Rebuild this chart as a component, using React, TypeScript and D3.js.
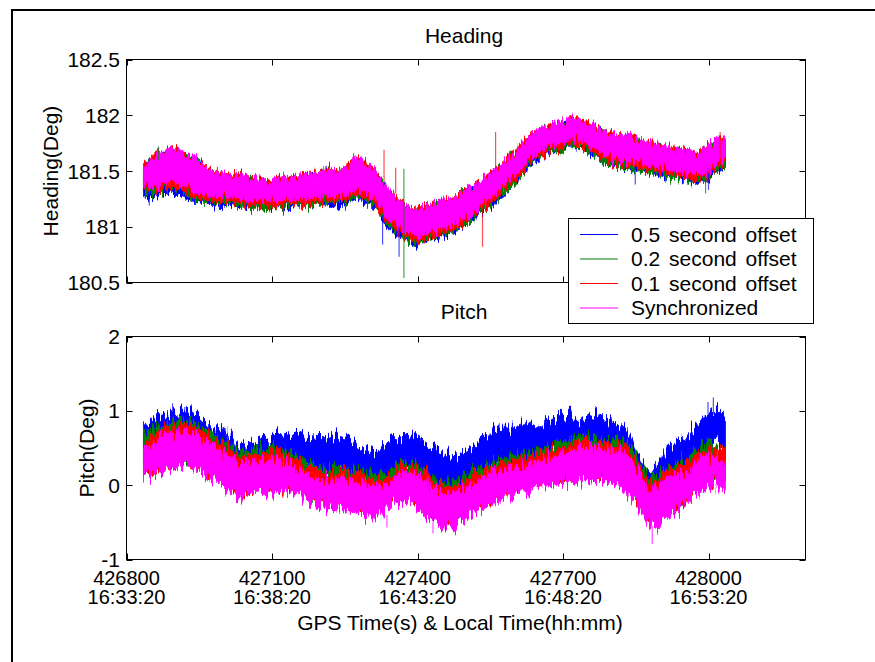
import React from 'react';
import * as d3 from 'd3';

const W = 875;
const H = 662;
const FONT = '"Liberation Sans", Arial, Helvetica, sans-serif';
const FS = 21;

// ---------- data ----------
const times = [
  426835, 426855, 426875, 426895, 426915, 426935, 426955, 426975, 426995, 427015,
  427035, 427055, 427075, 427095, 427115, 427135, 427155, 427175, 427195, 427215,
  427235, 427255, 427275, 427295, 427315, 427335, 427355, 427375, 427395, 427415,
  427435, 427455, 427475, 427495, 427515, 427535, 427555, 427575, 427595, 427615,
  427635, 427655, 427675, 427695, 427715, 427735, 427755, 427775, 427795, 427815,
  427835, 427855, 427875, 427895, 427915, 427935, 427955, 427975, 427995, 428015,
  428035,
];

const seriesNames = ['0.5 second offset', '0.2 second offset', '0.1 second offset', 'Synchronized'];
const seriesColors = ['#0000ff', '#008000', '#ff0000', '#ff00ff'];

const xTicks = [426800, 427100, 427400, 427700, 428000];
const xTickTimes = ['16:33:20', '16:38:20', '16:43:20', '16:48:20', '16:53:20'];
const headingTicks = [180.5, 181, 181.5, 182, 182.5];
const headingTickLabels = ['180.5', '181', '181.5', '182', '182.5'];
const pitchTicks = [-1, 0, 1, 2];
const pitchTickLabels = ['-1', '0', '1', '2'];

// Heading (deg) envelopes: hi / lo per series
const headBlueHi = [
  181.50, 181.60, 181.64, 181.66, 181.62, 181.58, 181.54, 181.46, 181.44, 181.42,
  181.44, 181.39, 181.40, 181.36, 181.41, 181.40, 181.42, 181.44, 181.44, 181.48,
  181.46, 181.50, 181.58, 181.52, 181.46, 181.32, 181.22, 181.16, 181.12, 181.14,
  181.18, 181.20, 181.22, 181.28, 181.32, 181.39, 181.46, 181.52, 181.62, 181.70,
  181.80, 181.84, 181.87, 181.90, 181.94, 181.92, 181.88, 181.84, 181.80, 181.78,
  181.78, 181.74, 181.72, 181.70, 181.68, 181.66, 181.64, 181.62, 181.68, 181.74, 181.76,
];
const headBlueLo = [
  181.27, 181.25, 181.29, 181.31, 181.27, 181.23, 181.22, 181.20, 181.21, 181.19,
  181.19, 181.18, 181.19, 181.18, 181.19, 181.19, 181.20, 181.20, 181.21, 181.19,
  181.20, 181.22, 181.26, 181.21, 181.16, 181.00, 180.93, 180.88, 180.84, 180.86,
  180.88, 180.92, 180.95, 181.02, 181.06, 181.14, 181.19, 181.27, 181.37, 181.46,
  181.57, 181.63, 181.67, 181.70, 181.73, 181.72, 181.67, 181.62, 181.56, 181.54,
  181.51, 181.51, 181.49, 181.48, 181.46, 181.45, 181.43, 181.41, 181.42, 181.49, 181.53,
];
const headGreenHi = [
  181.52, 181.62, 181.66, 181.68, 181.64, 181.60, 181.56, 181.48, 181.46, 181.44,
  181.46, 181.41, 181.42, 181.38, 181.43, 181.42, 181.44, 181.46, 181.46, 181.50,
  181.48, 181.52, 181.60, 181.54, 181.48, 181.34, 181.24, 181.18, 181.14, 181.16,
  181.20, 181.22, 181.24, 181.30, 181.34, 181.41, 181.48, 181.54, 181.64, 181.72,
  181.82, 181.86, 181.89, 181.92, 181.96, 181.94, 181.90, 181.86, 181.82, 181.80,
  181.80, 181.76, 181.74, 181.72, 181.70, 181.68, 181.66, 181.64, 181.70, 181.76, 181.78,
];
const headGreenLo = [
  181.31, 181.29, 181.31, 181.35, 181.31, 181.25, 181.23, 181.22, 181.21, 181.20,
  181.19, 181.17, 181.18, 181.17, 181.17, 181.18, 181.19, 181.19, 181.20, 181.21,
  181.21, 181.23, 181.27, 181.23, 181.17, 181.03, 180.95, 180.89, 180.85, 180.87,
  180.90, 180.93, 180.95, 181.01, 181.07, 181.15, 181.21, 181.28, 181.37, 181.45,
  181.57, 181.62, 181.67, 181.69, 181.72, 181.71, 181.67, 181.61, 181.55, 181.53,
  181.52, 181.50, 181.49, 181.47, 181.45, 181.43, 181.42, 181.40, 181.42, 181.50, 181.53,
];
const headRedHi = [
  181.54, 181.64, 181.68, 181.70, 181.66, 181.62, 181.58, 181.50, 181.48, 181.46,
  181.48, 181.43, 181.44, 181.40, 181.45, 181.44, 181.46, 181.48, 181.48, 181.52,
  181.50, 181.54, 181.62, 181.56, 181.50, 181.36, 181.26, 181.20, 181.16, 181.18,
  181.22, 181.24, 181.26, 181.32, 181.36, 181.43, 181.50, 181.56, 181.66, 181.74,
  181.84, 181.88, 181.91, 181.94, 181.98, 181.96, 181.92, 181.88, 181.84, 181.82,
  181.82, 181.78, 181.76, 181.74, 181.72, 181.70, 181.68, 181.66, 181.72, 181.78, 181.80,
];
const headRedLo = [
  181.33, 181.31, 181.33, 181.37, 181.33, 181.27, 181.25, 181.24, 181.23, 181.22,
  181.21, 181.19, 181.20, 181.19, 181.19, 181.20, 181.21, 181.21, 181.22, 181.23,
  181.23, 181.25, 181.29, 181.25, 181.19, 181.05, 180.97, 180.91, 180.87, 180.89,
  180.92, 180.95, 180.97, 181.03, 181.09, 181.17, 181.23, 181.30, 181.39, 181.47,
  181.59, 181.64, 181.69, 181.71, 181.74, 181.73, 181.69, 181.63, 181.57, 181.55,
  181.54, 181.52, 181.51, 181.49, 181.47, 181.45, 181.44, 181.42, 181.44, 181.52, 181.55,
];
const headMagHi = [
  181.54, 181.64, 181.68, 181.70, 181.66, 181.62, 181.58, 181.50, 181.48, 181.46,
  181.48, 181.43, 181.44, 181.40, 181.45, 181.44, 181.46, 181.48, 181.48, 181.52,
  181.50, 181.54, 181.62, 181.56, 181.50, 181.36, 181.26, 181.20, 181.16, 181.18,
  181.22, 181.24, 181.26, 181.32, 181.36, 181.43, 181.50, 181.56, 181.66, 181.74,
  181.84, 181.88, 181.91, 181.94, 181.98, 181.96, 181.92, 181.88, 181.84, 181.82,
  181.82, 181.78, 181.76, 181.74, 181.72, 181.70, 181.68, 181.66, 181.72, 181.78, 181.80,
];
const headMagLo = [
  181.37, 181.35, 181.37, 181.41, 181.37, 181.31, 181.29, 181.28, 181.27, 181.26,
  181.25, 181.23, 181.24, 181.23, 181.23, 181.24, 181.25, 181.25, 181.26, 181.27,
  181.27, 181.29, 181.33, 181.29, 181.23, 181.09, 181.01, 180.95, 180.91, 180.93,
  180.96, 180.99, 181.01, 181.07, 181.13, 181.21, 181.27, 181.34, 181.43, 181.51,
  181.63, 181.68, 181.73, 181.75, 181.78, 181.77, 181.73, 181.67, 181.61, 181.59,
  181.58, 181.56, 181.55, 181.53, 181.51, 181.49, 181.48, 181.46, 181.48, 181.56, 181.59,
];
// outlier spikes: [series, time, from, to]
const headSpikes: [number, number, number, number][] = [
  [0, 426847, 181.30, 181.19],
  [1, 426866, 181.60, 181.72],
  [2, 427331, 181.40, 181.69],
  [0, 427328, 181.10, 180.84],
  [2, 427355, 181.30, 181.53],
  [0, 427362, 181.00, 180.73],
  [1, 427372, 181.52, 180.54],
  [2, 427534, 181.21, 180.82],
  [2, 427561, 181.85, 181.50],
  [0, 427849, 181.55, 181.38],
  [1, 427994, 181.50, 181.30],
  [0, 428000, 181.48, 181.33],
  [2, 428024, 181.85, 181.62],
];

// Pitch (deg) envelopes
const pitchBlueHi = [
  0.80, 0.92, 0.96, 1.02, 0.98, 1.00, 0.90, 0.76, 0.78, 0.70,
  0.50, 0.60, 0.62, 0.64, 0.72, 0.62, 0.72, 0.66, 0.64, 0.64,
  0.68, 0.64, 0.56, 0.51, 0.44, 0.56, 0.62, 0.68, 0.69, 0.60,
  0.50, 0.42, 0.38, 0.44, 0.54, 0.64, 0.75, 0.78, 0.78, 0.81,
  0.82, 0.78, 0.89, 0.94, 0.94, 0.88, 0.98, 0.92, 0.84, 0.83,
  0.72, 0.42, 0.20, 0.28, 0.50, 0.58, 0.66, 0.82, 0.95, 1.06, 0.96,
];
const pitchBlueLo = [
  0.30, 0.42, 0.46, 0.52, 0.48, 0.50, 0.40, 0.26, 0.28, 0.20,
  0.00, 0.10, 0.12, 0.14, 0.22, 0.12, 0.22, 0.16, 0.14, 0.14,
  0.18, 0.14, 0.06, 0.01, -0.06, 0.06, 0.12, 0.18, 0.19, 0.10,
  0.00, -0.08, -0.12, -0.06, 0.04, 0.14, 0.25, 0.28, 0.28, 0.31,
  0.32, 0.28, 0.39, 0.44, 0.44, 0.38, 0.48, 0.42, 0.34, 0.33,
  0.22, -0.08, -0.30, -0.22, 0.00, 0.08, 0.16, 0.32, 0.45, 0.56, 0.46,
];
const pitchGreenHi = [
  0.71, 0.75, 0.81, 0.85, 0.88, 0.85, 0.78, 0.70, 0.61, 0.53,
  0.44, 0.46, 0.48, 0.50, 0.51, 0.44, 0.40, 0.29, 0.24, 0.21,
  0.24, 0.22, 0.20, 0.17, 0.13, 0.17, 0.25, 0.33, 0.31, 0.21,
  0.11, 0.04, 0.04, 0.10, 0.17, 0.24, 0.32, 0.36, 0.39, 0.42,
  0.45, 0.48, 0.51, 0.57, 0.63, 0.66, 0.66, 0.64, 0.62, 0.62,
  0.54, 0.35, 0.11, 0.13, 0.24, 0.29, 0.35, 0.47, 0.56, 0.52, 0.45,
];
const pitchGreenLo = [
  0.25, 0.23, 0.29, 0.35, 0.41, 0.37, 0.30, 0.19, 0.15, 0.05,
  -0.05, -0.01, 0.03, 0.03, 0.01, 0.04, 0.03, -0.09, -0.17, -0.19,
  -0.19, -0.21, -0.25, -0.28, -0.31, -0.20, -0.09, -0.09, -0.17, -0.29,
  -0.38, -0.42, -0.42, -0.32, -0.25, -0.19, -0.09, -0.05, -0.04, 0.05,
  0.09, 0.12, 0.12, 0.15, 0.17, 0.17, 0.20, 0.19, 0.17, 0.13,
  0.01, -0.15, -0.40, -0.41, -0.30, -0.23, -0.11, 0.02, 0.08, 0.12, 0.11,
];
const pitchRedHi = [
  0.65, 0.69, 0.75, 0.79, 0.82, 0.79, 0.72, 0.64, 0.55, 0.47,
  0.38, 0.40, 0.42, 0.44, 0.45, 0.38, 0.34, 0.23, 0.18, 0.15,
  0.18, 0.16, 0.14, 0.11, 0.07, 0.11, 0.19, 0.27, 0.25, 0.15,
  0.05, -0.02, -0.02, 0.04, 0.11, 0.18, 0.26, 0.30, 0.33, 0.36,
  0.39, 0.42, 0.45, 0.51, 0.57, 0.60, 0.60, 0.58, 0.56, 0.56,
  0.48, 0.29, 0.05, 0.07, 0.18, 0.23, 0.29, 0.41, 0.50, 0.46, 0.39,
];
const pitchRedLo = [
  0.19, 0.17, 0.23, 0.29, 0.35, 0.31, 0.24, 0.13, 0.09, -0.01,
  -0.11, -0.07, -0.03, -0.03, -0.05, -0.02, -0.03, -0.15, -0.23, -0.25,
  -0.25, -0.27, -0.31, -0.34, -0.37, -0.26, -0.15, -0.15, -0.23, -0.35,
  -0.44, -0.48, -0.48, -0.38, -0.31, -0.25, -0.15, -0.11, -0.10, -0.01,
  0.03, 0.06, 0.06, 0.09, 0.11, 0.11, 0.14, 0.13, 0.11, 0.07,
  -0.05, -0.21, -0.46, -0.47, -0.36, -0.29, -0.17, -0.04, 0.02, 0.06, 0.05,
];
const pitchMagHi = [
  0.56, 0.60, 0.66, 0.70, 0.73, 0.70, 0.63, 0.55, 0.46, 0.38,
  0.29, 0.31, 0.33, 0.35, 0.36, 0.29, 0.25, 0.14, 0.09, 0.06,
  0.09, 0.07, 0.05, 0.02, -0.02, 0.02, 0.10, 0.18, 0.16, 0.06,
  -0.04, -0.11, -0.11, -0.05, 0.02, 0.09, 0.17, 0.21, 0.24, 0.27,
  0.30, 0.33, 0.36, 0.42, 0.48, 0.51, 0.51, 0.49, 0.47, 0.47,
  0.39, 0.20, -0.04, -0.02, 0.09, 0.14, 0.20, 0.32, 0.41, 0.37, 0.30,
];
const pitchMagLo = [
  0.12, 0.10, 0.16, 0.22, 0.28, 0.24, 0.17, 0.06, 0.02, -0.08,
  -0.18, -0.14, -0.10, -0.10, -0.12, -0.09, -0.10, -0.22, -0.30, -0.32,
  -0.32, -0.34, -0.38, -0.41, -0.44, -0.33, -0.22, -0.22, -0.30, -0.42,
  -0.51, -0.55, -0.55, -0.45, -0.38, -0.32, -0.22, -0.18, -0.17, -0.08,
  -0.04, -0.01, -0.01, 0.02, 0.04, 0.04, 0.07, 0.06, 0.04, 0.00,
  -0.12, -0.28, -0.53, -0.54, -0.43, -0.36, -0.24, -0.11, -0.05, -0.01, -0.02,
];
const pitchSpikes: [number, number, number, number][] = [
  [0, 426895, 0.90, 1.10],
  [0, 426920, 0.90, 1.05],
  [3, 427337, -0.40, -0.57],
  [3, 427432, -0.50, -0.65],
  [3, 427884, -0.55, -0.79],
  [0, 427999, 0.95, 1.12],
  [0, 428010, 0.95, 1.18],
];

const headingSeries = [
  [headBlueHi, headBlueLo],
  [headGreenHi, headGreenLo],
  [headRedHi, headRedLo],
  [headMagHi, headMagLo],
];
const pitchSeries = [
  [pitchBlueHi, pitchBlueLo],
  [pitchGreenHi, pitchGreenLo],
  [pitchRedHi, pitchRedLo],
  [pitchMagHi, pitchMagLo],
];

// ---------- layout ----------
const LEFT = 126.5;
const RIGHT = 805.5;
const TICK = 6;

type PanelProps = {
  id: string;
  top: number;
  bottom: number;
  yDomain: [number, number];
  yTicks: number[];
  yTickLabels: string[];
  title: string;
  titleY: number;
  ylabel: string;
  ylabelX: number;
  series: number[][][];
  spikes: [number, number, number, number][];
  showXLabels: boolean;
  jitter: number;
};

function Panel(p: PanelProps) {
  const x = d3.scaleLinear().domain([426800, 428200]).range([LEFT, RIGHT]);
  const y = d3.scaleLinear().domain(p.yDomain).range([p.bottom, p.top]);
  const midY = (p.top + p.bottom) / 2;
  return (
    <g>
      <defs>
        {seriesColors.map((c, si) => (
          <filter
            key={si}
            id={`${p.id}-tex-${si}`}
            filterUnits="userSpaceOnUse"
            x={LEFT}
            y={p.top - 20}
            width={RIGHT - LEFT}
            height={p.bottom - p.top + 40}
            colorInterpolationFilters="sRGB"
          >
            <feTurbulence
              type="fractalNoise"
              baseFrequency="0.42 0.035"
              numOctaves={2}
              seed={si * 7 + (p.id === 'h' ? 3 : 11)}
              result="noise"
            />
            <feColorMatrix
              in="noise"
              type="matrix"
              values="0 0 0 0 0.5  0 1 0 0 0  0 0 0 0 0  0 0 0 0 1"
              result="map"
            />
            <feDisplacementMap
              in="SourceGraphic"
              in2="map"
              scale={p.jitter}
              xChannelSelector="R"
              yChannelSelector="G"
            />
          </filter>
        ))}
      </defs>
      {p.series.map(([hi, lo], si) => {
        const a = d3
          .area<number>()
          .x((t) => x(t))
          .y0((_, i) => y(lo[i]))
          .y1((_, i) => y(hi[i]))
          .curve(d3.curveLinear);
        return (
          <path
            key={si}
            d={a(times) || ''}
            fill={seriesColors[si]}
            stroke={seriesColors[si]}
            strokeWidth={0.8}
            strokeLinejoin="round"
            filter={`url(#${p.id}-tex-${si})`}
          />
        );
      })}
      {p.spikes.map(([s, t, a, b], i) => (
        <line
          key={'sp' + i}
          x1={x(t)}
          x2={x(t)}
          y1={y(a)}
          y2={y(b)}
          stroke={seriesColors[s]}
          strokeWidth={1.2}
          strokeOpacity={0.7}
        />
      ))}
      <rect
        x={LEFT}
        y={p.top}
        width={RIGHT - LEFT}
        height={p.bottom - p.top}
        fill="none"
        stroke="#000"
        strokeWidth={1}
      />
      {xTicks.map((t, i) => (
        <g key={'xt' + i}>
          <line x1={Math.round(x(t)) + 0.5} x2={Math.round(x(t)) + 0.5} y1={p.bottom} y2={p.bottom - TICK} stroke="#000" />
          <line x1={Math.round(x(t)) + 0.5} x2={Math.round(x(t)) + 0.5} y1={p.top} y2={p.top + TICK} stroke="#000" />
          {p.showXLabels && (
            <>
              <text x={x(t)} y={585} textAnchor="middle" fontFamily={FONT} fontSize={20}>
                {String(t)}
              </text>
              <text x={x(t)} y={604} textAnchor="middle" fontFamily={FONT} fontSize={20}>
                {xTickTimes[i]}
              </text>
            </>
          )}
        </g>
      ))}
      {p.yTicks.map((v, i) => (
        <g key={'yt' + i}>
          <line x1={LEFT} x2={LEFT + TICK} y1={Math.round(y(v)) + 0.5} y2={Math.round(y(v)) + 0.5} stroke="#000" />
          <line x1={RIGHT} x2={RIGHT - TICK} y1={Math.round(y(v)) + 0.5} y2={Math.round(y(v)) + 0.5} stroke="#000" />
          <text x={120} y={y(v)} dy="0.36em" textAnchor="end" fontFamily={FONT} fontSize={FS}>
            {p.yTickLabels[i]}
          </text>
        </g>
      ))}
      <text x={(LEFT + RIGHT) / 2 - 2} y={p.titleY} textAnchor="middle" fontFamily={FONT} fontSize={FS}>
        {p.title}
      </text>
      <text
        transform={`translate(${p.ylabelX},${midY}) rotate(-90)`}
        textAnchor="middle"
        fontFamily={FONT}
        fontSize={FS}
      >
        {p.ylabel}
      </text>
    </g>
  );
}

function Legend() {
  const rows = [234, 258.5, 283, 307.5];
  return (
    <g>
      <rect x={568.5} y={218.5} width={245} height={105} fill="#fff" stroke="#000" strokeWidth={1} />
      {seriesNames.map((n, i) => (
        <g key={n}>
          <line x1={580} x2={618} y1={rows[i] + 0.5} y2={rows[i] + 0.5} stroke={seriesColors[i]} strokeWidth={1} />
          <text x={631} y={rows[i] + 7.5} fontFamily={FONT} fontSize={FS} wordSpacing={3}>
            {n}
          </text>
        </g>
      ))}
    </g>
  );
}

export default function App() {
  return (
    <svg
      width={W}
      height={H}
      viewBox={`0 0 ${W} ${H}`}
      style={{ position: 'absolute', left: 0, top: 0, background: '#fff', display: 'block' }}
    >
      <rect x={0} y={0} width={W} height={H} fill="#fff" />
      <rect x={12} y={10} width={1000} height={1000} fill="none" stroke="#000" strokeWidth={2} />
      <Panel
        id="h"
        top={59.5}
        bottom={282.5}
        yDomain={[180.5, 182.5]}
        yTicks={headingTicks}
        yTickLabels={headingTickLabels}
        title="Heading"
        titleY={43}
        ylabel="Heading(Deg)"
        ylabelX={58}
        series={headingSeries}
        spikes={headSpikes}
        showXLabels={false}
        jitter={22}
      />
      <Panel
        id="p"
        top={336.5}
        bottom={559.5}
        yDomain={[-1, 2]}
        yTicks={pitchTicks}
        yTickLabels={pitchTickLabels}
        title="Pitch"
        titleY={319}
        ylabel="Pitch(Deg)"
        ylabelX={94}
        series={pitchSeries}
        spikes={pitchSpikes}
        showXLabels={true}
        jitter={30}
      />
      <Legend />
      <text x={460} y={630} textAnchor="middle" fontFamily={FONT} fontSize={FS}>
        GPS Time(s) &amp; Local Time(hh:mm)
      </text>
    </svg>
  );
}
